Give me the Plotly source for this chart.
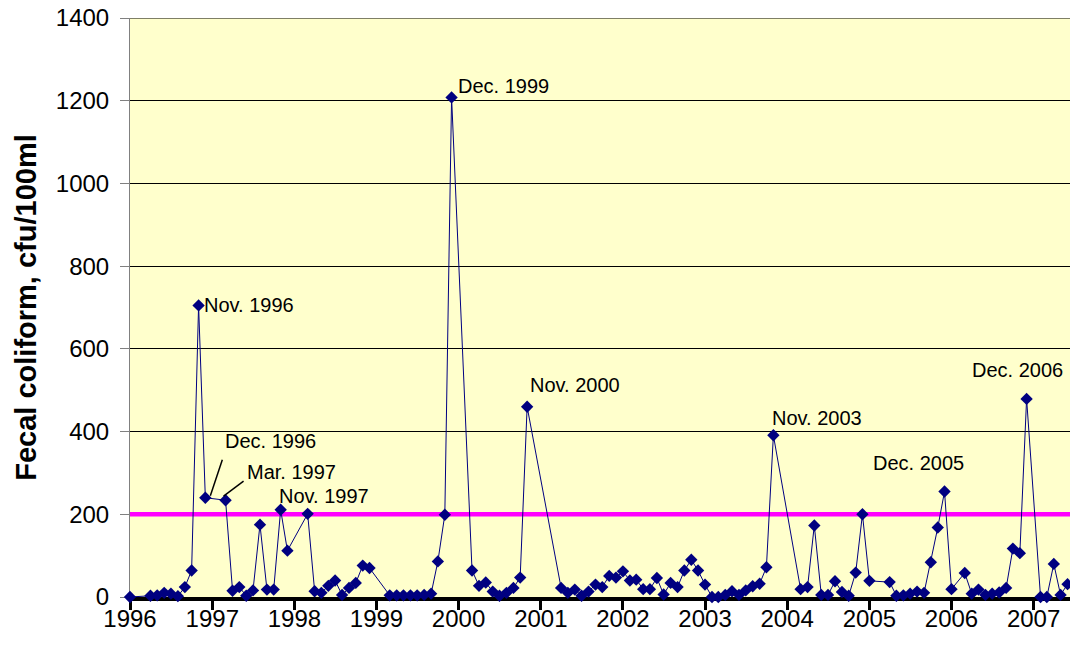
import plotly.graph_objects as go

# ---- data (monthly samples; months without a sample are simply absent) ----
sample_months = [
    "1996-01", "1996-04", "1996-05", "1996-06", "1996-07", "1996-08", "1996-09", "1996-10", "1996-11", "1996-12",
    "1997-03", "1997-04", "1997-05", "1997-06", "1997-07", "1997-08", "1997-09", "1997-10", "1997-11", "1997-12",
    "1998-03", "1998-04", "1998-05", "1998-06", "1998-07", "1998-08", "1998-09", "1998-10", "1998-11", "1998-12",
    "1999-03", "1999-04", "1999-05", "1999-06", "1999-07", "1999-08", "1999-09", "1999-10", "1999-11", "1999-12",
    "2000-03", "2000-04", "2000-05", "2000-06", "2000-07", "2000-08", "2000-09", "2000-10", "2000-11",
    "2001-04", "2001-05", "2001-06", "2001-07", "2001-08", "2001-09", "2001-10", "2001-11", "2001-12",
    "2002-01", "2002-02", "2002-03", "2002-04", "2002-05", "2002-06", "2002-07", "2002-08", "2002-09", "2002-10",
    "2002-11", "2002-12",
    "2003-01", "2003-02", "2003-03", "2003-04", "2003-05", "2003-06", "2003-07", "2003-08", "2003-09", "2003-10",
    "2003-11",
    "2004-03", "2004-04", "2004-05", "2004-06", "2004-07", "2004-08", "2004-09", "2004-10", "2004-11", "2004-12",
    "2005-01", "2005-04", "2005-05", "2005-06", "2005-07", "2005-08", "2005-09", "2005-10", "2005-11", "2005-12",
    "2006-01", "2006-03", "2006-04", "2006-05", "2006-06", "2006-07", "2006-08", "2006-09", "2006-10", "2006-11",
    "2006-12",
    "2007-02", "2007-03", "2007-04", "2007-05", "2007-06",
]
fecal_coliform = [
    0, 3, 4, 10, 8, 2, 24, 64, 705, 240,
    234, 15, 24, 3, 16, 175, 18, 18, 211, 112,
    201, 14, 10, 27, 40, 5, 22, 34, 76, 70,
    4, 4, 4, 4, 4, 5, 8, 86, 199, 1208,
    64, 27, 35, 13, 3, 10, 22, 47, 460,
    22, 10, 18, 3, 13, 30, 24, 51, 47,
    62, 40, 42, 19, 19, 46, 6, 34, 24, 64,
    90, 64,
    30, 0, 0, 5, 14, 5, 16, 26, 32, 72,
    391,
    19, 24, 173, 5, 5, 38, 12, 3, 59, 200,
    39, 36, 3, 4, 8, 13, 10, 84, 168, 255,
    19, 58, 8, 18, 5, 8, 11, 22, 117, 106,
    479,
    0, 0, 80, 5, 31,
]
standard_limit = 200
y_max = 1400

# labelled peaks: month, text, text offset (px), optional leader line (px)
peak_labels = [
    ("1996-11", "Nov. 1996", 3, 0, None),
    ("1996-12", "Dec. 1996", 18, 57, (5, 2, 17, 38)),
    ("1997-03", "Mar. 1997", 19, 28, (-2, 4, 18, 19)),
    ("1997-11", "Nov. 1997", -4, 14, None),
    ("1999-12", "Dec. 1999", 4, 11, None),
    ("2000-11", "Nov. 2000", 1, 22, None),
    ("2003-11", "Nov. 2003", -3, 17, None),
    ("2005-12", "Dec. 2005", -74, 29, None),
    ("2006-12", "Dec. 2006", -57, 29, None),
]

x_start = "1996-01-01"
x_end = "2007-06-12"

dates = [m + "-01" for m in sample_months]
value_by_month = dict(zip(sample_months, fecal_coliform))

FONT = "Liberation Sans, Arial, sans-serif"
NAVY = "#000080"

fig = go.Figure()
# 200 cfu/100ml standard line (drawn first so the data marks sit on top of it)
fig.add_trace(go.Scatter(
    x=[x_start, x_end], y=[standard_limit, standard_limit], mode="lines",
    line=dict(color="#FF00FF", width=4.5), showlegend=False, hoverinfo="skip",
))
fig.add_trace(go.Scatter(
    x=dates, y=fecal_coliform, mode="lines+markers",
    line=dict(color=NAVY, width=1),
    marker=dict(symbol="diamond", size=9.5, color=NAVY, line=dict(width=0)),
    cliponaxis=False, showlegend=False, hoverinfo="x+y",
))

# top gridline of the plot area
fig.add_shape(type="line", xref="paper", x0=0, x1=1, yref="y", y0=y_max, y1=y_max,
              line=dict(color="black", width=1), layer="below")

for month, text, dx, dy, leader in peak_labels:
    xv = month + "-01"
    yv = value_by_month[month]
    fig.add_annotation(x=xv, y=yv, text=text, showarrow=False,
                       xanchor="left", yanchor="middle", xshift=dx, yshift=dy,
                       font=dict(family=FONT, size=20, color="black"))
    if leader:
        lx0, ly0, lx1, ly1 = leader
        fig.add_shape(type="line", xref="x", yref="y",
                      xsizemode="pixel", ysizemode="pixel",
                      xanchor=xv, yanchor=yv,
                      x0=lx0, x1=lx1, y0=ly0, y1=ly1,
                      line=dict(color="black", width=1.5))

fig.update_layout(
    template="none",
    width=1070, height=654,
    margin=dict(l=130, r=0, t=18, b=57, autoexpand=False),
    paper_bgcolor="white", plot_bgcolor="#FFFFCC",
    font=dict(family=FONT, size=24, color="black"),
    showlegend=False,
)
fig.update_xaxes(
    type="date", range=[x_start, x_end], tick0=x_start, dtick="M12",
    tickformat="%Y", showgrid=False, zeroline=False,
    showline=True, linecolor="black", linewidth=4,
    ticks="outside", ticklen=9, tickwidth=3, tickcolor="black",
    tickfont=dict(family=FONT, size=24, color="black"),
    ticklabelstandoff=-12,
    automargin=False, layer="below traces",
)
fig.update_yaxes(
    range=[0, y_max], dtick=200, tick0=0,
    showgrid=True, gridcolor="black", gridwidth=1, zeroline=False,
    showline=True, linecolor="#808080", linewidth=1,
    ticks="outside", ticklen=9, tickwidth=1, tickcolor="#808080",
    tickfont=dict(family=FONT, size=24, color="black"),
    ticklabelstandoff=6, ticklabeloverflow="allow",
    title=dict(text="<b>Fecal coliform, cfu/100ml</b>", standoff=10,
               font=dict(family=FONT, size=29, color="black")),
    automargin=False, layer="below traces",
)

# remove the browser's default 8px page margin so the chart fills the window
fig.write_html("out.html",
               config={"displayModeBar": False},
               post_script="document.body.style.margin='0';document.body.style.overflow='hidden';")
